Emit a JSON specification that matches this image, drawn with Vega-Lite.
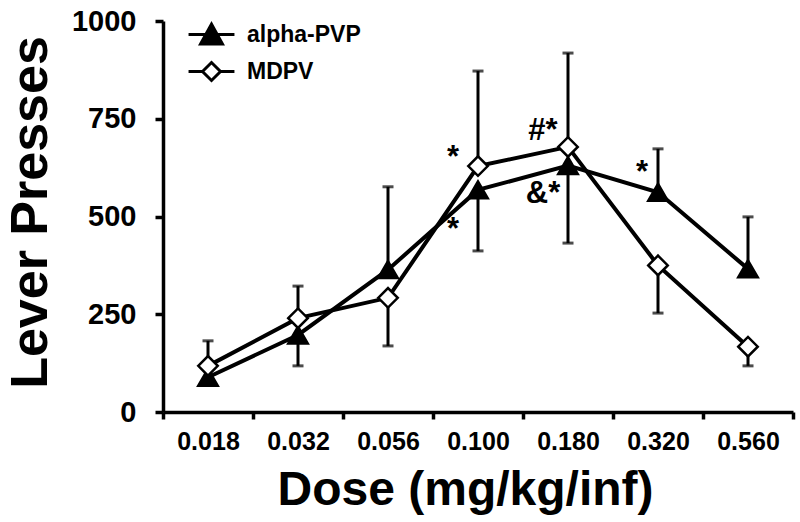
{
  "$schema": "https://vega.github.io/schema/vega-lite/v6.json",
  "width": 630,
  "height": 391,
  "autosize": "none",
  "padding": {"left": 163, "top": 21, "right": 7, "bottom": 110},
  "background": "white",
  "config": {
    "view": {"stroke": null},
    "font": "Liberation Sans",
    "axis": {"grid": false, "domainColor": "black", "tickColor": "black", "labelColor": "black", "titleColor": "black", "labelFont": "Liberation Sans", "titleFont": "Liberation Sans", "labelFontWeight": "bold", "titleFontWeight": "bold"}
  },
  "datasets": {
    "means": [
      {"dose": "0.018", "drug": "alpha-PVP", "mean": 89, "bar_end": 69},
      {"dose": "0.032", "drug": "alpha-PVP", "mean": 197, "bar_end": 118},
      {"dose": "0.056", "drug": "alpha-PVP", "mean": 364, "bar_end": 576},
      {"dose": "0.100", "drug": "alpha-PVP", "mean": 568, "bar_end": 412},
      {"dose": "0.180", "drug": "alpha-PVP", "mean": 630, "bar_end": 432},
      {"dose": "0.320", "drug": "alpha-PVP", "mean": 562, "bar_end": 673},
      {"dose": "0.560", "drug": "alpha-PVP", "mean": 366, "bar_end": 499},
      {"dose": "0.018", "drug": "MDPV", "mean": 118, "bar_end": 182},
      {"dose": "0.032", "drug": "MDPV", "mean": 240, "bar_end": 322},
      {"dose": "0.056", "drug": "MDPV", "mean": 292, "bar_end": 169},
      {"dose": "0.100", "drug": "MDPV", "mean": 629, "bar_end": 872},
      {"dose": "0.180", "drug": "MDPV", "mean": 678, "bar_end": 918},
      {"dose": "0.320", "drug": "MDPV", "mean": 375, "bar_end": 253},
      {"dose": "0.560", "drug": "MDPV", "mean": 167, "bar_end": 118}
    ],
    "notes": [
      {"dose": "0.100", "value": 650, "label": "*"},
      {"dose": "0.100", "value": 466, "label": "*"},
      {"dose": "0.180", "value": 718, "label": "#*"},
      {"dose": "0.180", "value": 558, "label": "&*"}
    ],
    "notes2": [
      {"dose": "0.320", "value": 612, "label": "*"}
    ]
  },
  "encoding": {
    "x": {
      "field": "dose", "type": "ordinal",
      "scale": {"type": "band", "paddingInner": 0, "paddingOuter": 0},
      "axis": {
        "title": "Dose (mg/kg/inf)", "titleFontSize": 48, "titleX": 302, "titleY": 92, "titleBaseline": "alphabetic",
        "labelAngle": 0, "labelFontSize": 25, "labelPadding": 10, "tickBand": "extent", "tickSize": 7, "tickWidth": 3.5, "domainWidth": 3.5
      }
    }
  },
  "layer": [
    {
      "data": {"name": "means"},
      "mark": {"type": "rule", "color": "black", "strokeWidth": 3},
      "encoding": {
        "y": {"field": "mean", "type": "quantitative", "scale": {"domain": [0, 1000]},
          "axis": {"title": "Lever Presses", "values": [0, 250, 500, 750, 1000], "format": "d", "labelFontSize": 29, "labelPadding": 19, "tickSize": 8, "tickWidth": 3.5, "domainWidth": 3.5,
            "titleFontSize": 52, "titleX": -117, "titleY": 191, "titleBaseline": "alphabetic", "titleAngle": 270}},
        "y2": {"field": "bar_end"}
      }
    },
    {
      "data": {"name": "means"},
      "mark": {"type": "tick", "color": "black", "size": 11, "thickness": 3},
      "encoding": {"y": {"field": "bar_end", "type": "quantitative"}}
    },
    {
      "data": {"name": "means"},
      "mark": {"type": "line", "color": "black", "strokeWidth": 4},
      "encoding": {"y": {"field": "mean", "type": "quantitative"}, "detail": {"field": "drug"}}
    },
    {
      "data": {"name": "means"},
      "mark": {"type": "point", "filled": true, "stroke": "black", "strokeWidth": 2.5, "size": 380, "opacity": 1},
      "encoding": {
        "y": {"field": "mean", "type": "quantitative"},
        "shape": {"field": "drug", "type": "nominal", "scale": {"domain": ["MDPV", "alpha-PVP"], "range": ["diamond", "triangle-up"]}, "legend": null},
        "fill": {"field": "drug", "type": "nominal", "scale": {"domain": ["alpha-PVP", "MDPV"], "range": ["black", "white"]},
          "legend": {
            "title": null, "orient": "none", "legendX": 32, "legendY": -3, "padding": 0,
            "symbolSize": 900, "symbolStrokeWidth": 3, "symbolStrokeColor": "black", "symbolOpacity": 1, "rowPadding": 5, "labelOffset": 19,
            "labelFont": "Liberation Sans", "labelFontSize": 23, "labelFontWeight": "bold", "labelColor": "black",
            "encode": {"symbols": {"update": {
              "shape": {"signal": "datum.value === 'alpha-PVP' ? 'M-1.53,0H1.53M-0.73,0.63L0,-0.7L0.73,0.63Z' : 'M-1.53,0H-0.6M0.6,0H1.53M-0.6,0L0,-0.6L0.6,0L0,0.6Z'"},
              "stroke": {"value": "black"},
              "strokeWidth": {"value": 3}
            }}}
          }}
      }
    },
    {
      "data": {"name": "notes"},
      "mark": {"type": "text", "font": "Liberation Sans", "fontWeight": "bold", "fontSize": 31, "color": "black", "dx": -25, "baseline": "middle", "align": "center"},
      "encoding": {"y": {"field": "value", "type": "quantitative"}, "text": {"field": "label"}}
    },
    {
      "data": {"name": "notes2"},
      "mark": {"type": "text", "font": "Liberation Sans", "fontWeight": "bold", "fontSize": 31, "color": "black", "dx": -16, "baseline": "middle", "align": "center"},
      "encoding": {"y": {"field": "value", "type": "quantitative"}, "text": {"field": "label"}}
    }
  ]
}
